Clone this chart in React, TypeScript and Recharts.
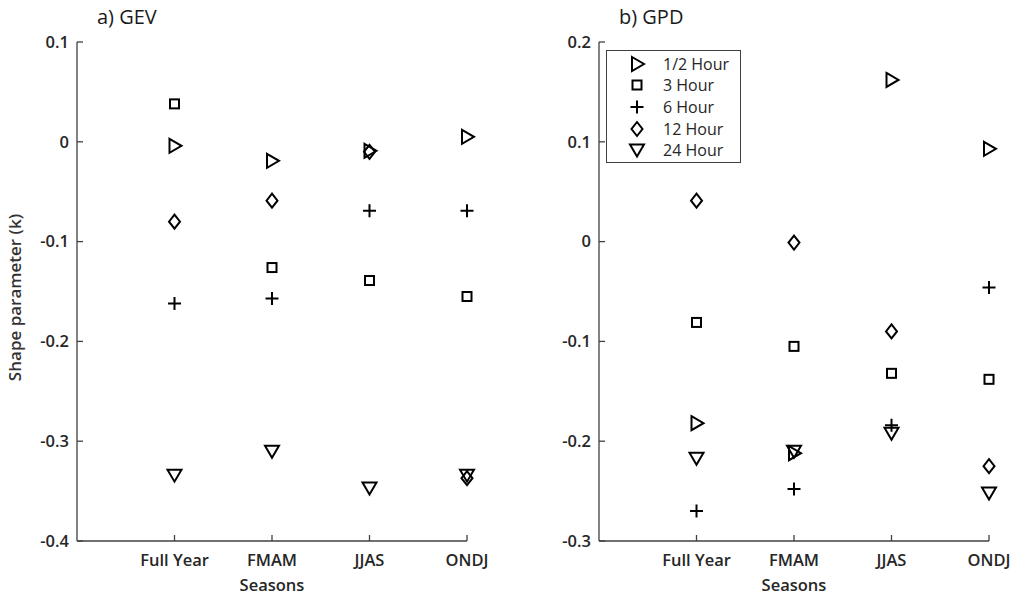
import React from "react";
import { ScatterChart, Scatter, XAxis, YAxis, Legend } from "recharts";

const seasons = ["Full Year", "FMAM", "JJAS", "ONDJ"];
const durations = ["1/2 Hour", "3 Hour", "6 Hour", "12 Hour", "24 Hour"];

// a) GEV shape parameter, one value per season
const gevHalfHour = [-0.004, -0.019, -0.009, 0.005];
const gev3Hour = [0.038, -0.126, -0.139, -0.155];
const gev6Hour = [-0.162, -0.157, -0.069, -0.069];
const gev12Hour = [-0.08, -0.059, -0.01, -0.337];
const gev24Hour = [-0.334, -0.31, -0.347, -0.334];

// b) GPD shape parameter
const gpdHalfHour = [-0.182, -0.212, 0.162, 0.093];
const gpd3Hour = [-0.081, -0.105, -0.132, -0.138];
const gpd6Hour = [-0.27, -0.248, -0.184, -0.046];
const gpd12Hour = [0.041, -0.001, -0.09, -0.225];
const gpd24Hour = [-0.217, -0.21, -0.192, -0.252];

const gevTicks = [-0.4, -0.3, -0.2, -0.1, 0, 0.1];
const gpdTicks = [-0.3, -0.2, -0.1, 0, 0.1, 0.2];
const seasonTicks = [1, 2, 3, 4];

const INK = "#000";
const AXIS = "#404040";
const TEXT = "#262626";
const FONT = "'Open Sans', sans-serif";

type MarkerProps = { cx?: number; cy?: number };

const stroke = { fill: "none", stroke: INK, strokeWidth: 2 };

function TriRight({ cx = 0, cy = 0 }: MarkerProps) {
  return <path d={`M${cx - 5},${cy - 7}L${cx + 7},${cy}L${cx - 5},${cy + 7}Z`} {...stroke} />;
}
function Square({ cx = 0, cy = 0 }: MarkerProps) {
  return <rect x={cx - 4.5} y={cy - 4.5} width={9} height={9} {...stroke} />;
}
function Plus({ cx = 0, cy = 0 }: MarkerProps) {
  return <path d={`M${cx - 6.5},${cy}H${cx + 6.5}M${cx},${cy - 6.5}V${cy + 6.5}`} {...stroke} />;
}
function Diamond({ cx = 0, cy = 0 }: MarkerProps) {
  return <path d={`M${cx},${cy - 7}L${cx + 5.5},${cy}L${cx},${cy + 7}L${cx - 5.5},${cy}Z`} {...stroke} />;
}
function TriDown({ cx = 0, cy = 0 }: MarkerProps) {
  return <path d={`M${cx - 7},${cy - 5.5}H${cx + 7}L${cx},${cy + 6.5}Z`} {...stroke} />;
}

const markers = [TriRight, Square, Plus, Diamond, TriDown];

const toPoints = (vals: number[]) => vals.map((y, i) => ({ x: i + 1, y }));

const fmtY = (v: number) => {
  const s = Number(v.toFixed(1)).toString();
  return s === "-0" ? "0" : s;
};

function LegendBox() {
  return (
    <div
      style={{
        boxSizing: "border-box",
        width: 135,
        height: 113,
        border: `1.5px solid ${AXIS}`,
        background: "#fff",
        paddingTop: 2,
        fontFamily: FONT,
        fontSize: 16,
        fontWeight: 500,
        color: TEXT,
        textAlign: "left",
      }}
    >
      {durations.map((d, i) => {
        const M = markers[i];
        return (
          <div key={d} style={{ display: "flex", alignItems: "center", height: 21.6 }}>
            <svg width={18} height={18} style={{ marginLeft: 21, marginRight: 17, flexShrink: 0 }}>
              <M cx={9} cy={9} />
            </svg>
            <span>{d}</span>
          </div>
        );
      })}
    </div>
  );
}

// rotated axis title, drawn at the left edge of the y-axis box
function YTitle(props: any) {
  const vb = props.viewBox ?? { x: 0, y: 0, width: 0, height: 0 };
  const x = vb.x - 6;
  const y = vb.y + vb.height / 2 + 6;
  return (
    <text
      x={x}
      y={y}
      transform={`rotate(-90, ${x}, ${y})`}
      textAnchor="middle"
      fill="#333"
      fontSize={17}
      fontFamily={FONT}
      fontWeight={600}
    >
      {props.value}
    </text>
  );
}

interface PanelProps {
  title: string;
  series: number[][];
  domain: [number, number];
  ticks: number[];
  left: number;
  width: number;
  margin: { top: number; right: number; bottom: number; left: number };
  yLabel?: string;
  legend?: boolean;
}

function Panel({ title, series, domain, ticks, left, width, margin, yLabel, legend }: PanelProps) {
  const tickStyle = { fill: TEXT, fontSize: 16.5, fontFamily: FONT, fontWeight: 600 };
  return (
    <div style={{ position: "absolute", left, top: 0, width, height: 599 }}>
      <div
        style={{
          position: "absolute",
          left: margin.left + 50 + 20,
          top: 7,
          fontFamily: FONT,
          fontSize: 20,
          lineHeight: "20px",
          color: "#1a1a1a",
          zIndex: 2,
        }}
      >
        {title}
      </div>
      <ScatterChart width={width} height={599} margin={margin}>
        <XAxis
          type="number"
          dataKey="x"
          domain={[0, 4]}
          ticks={seasonTicks}
          tickFormatter={(v: number) => seasons[v - 1] ?? ""}
          tickSize={-6}
          tickMargin={19}
          height={50}
          stroke={AXIS}
          strokeWidth={1.3}
          tick={tickStyle}
          label={{ value: "Seasons", position: "insideBottom", offset: 0, fill: TEXT, fontSize: 16.5, fontFamily: FONT, fontWeight: 600 }}
        />
        <YAxis
          type="number"
          dataKey="y"
          domain={domain}
          ticks={ticks}
          tickFormatter={fmtY}
          tickSize={-6}
          tickMargin={14}
          width={50}
          stroke={AXIS}
          strokeWidth={1.3}
          tick={tickStyle}
          label={yLabel ? { value: yLabel, content: YTitle } : undefined}
        />
        {series.map((vals, i) => (
          <Scatter
            key={durations[i]}
            name={durations[i]}
            data={toPoints(vals)}
            shape={markers[i]}
            isAnimationActive={false}
          />
        ))}
        {legend && (
          <Legend
            layout="vertical"
            align="center"
            verticalAlign="middle"
            content={() => <LegendBox />}
            wrapperStyle={{ position: "absolute", left: 86, top: 50, width: 135, height: 113 }}
          />
        )}
      </ScatterChart>
    </div>
  );
}

export default function App() {
  return (
    <div style={{ position: "absolute", left: 0, top: 0, width: 1014, height: 599, background: "#fff" }}>
      <Panel
        title="a) GEV"
        series={[gevHalfHour, gev3Hour, gev6Hour, gev12Hour, gev24Hour]}
        domain={[-0.4, 0.1]}
        ticks={gevTicks}
        left={0}
        width={500}
        margin={{ top: 42, right: 33, bottom: 8, left: 27 }}
        yLabel="Shape parameter (k)"
      />
      <Panel
        title="b) GPD"
        series={[gpdHalfHour, gpd3Hour, gpd6Hour, gpd12Hour, gpd24Hour]}
        domain={[-0.3, 0.2]}
        ticks={gpdTicks}
        left={520}
        width={494}
        margin={{ top: 42, right: 25, bottom: 8, left: 29 }}
        legend
      />
    </div>
  );
}
